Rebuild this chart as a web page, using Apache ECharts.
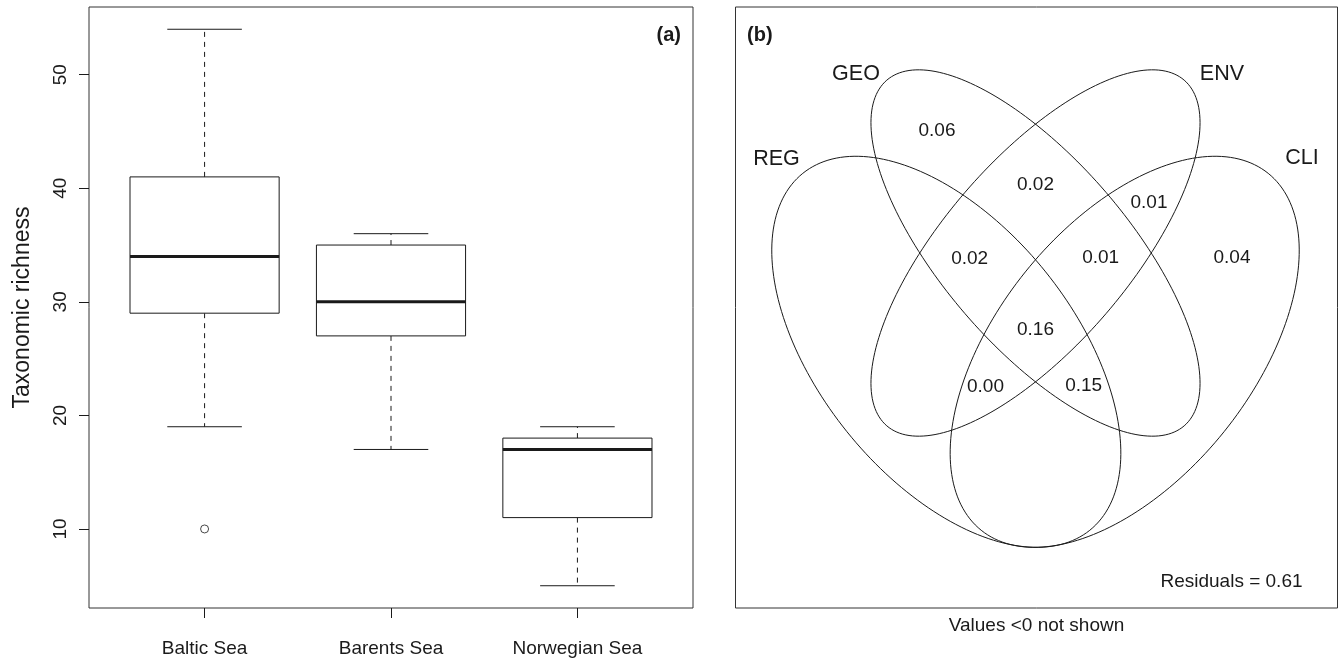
<!DOCTYPE html>
<html>
<head>
<meta charset="utf-8">
<title>Taxonomic richness and variation partitioning</title>
<script src="https://cdn.jsdelivr.net/npm/echarts@6/dist/echarts.min.js"></script>
<style>
html, body { margin: 0; padding: 0; background: #fff; }
#chart { width: 1339px; height: 659px; }
</style>
</head>
<body>
<div id="chart"></div>
<script>
// (a) taxonomic richness per sea, boxplot stats
var regions = ['Baltic Sea', 'Barents Sea', 'Norwegian Sea'];
var whiskerLow = [19, 17, 5];
var lowerQuartile = [29, 27, 11];
var medians = [34, 30, 17];
var upperQuartile = [41, 35, 18];
var whiskerHigh = [54, 36, 19];
var outlierRegion = [1];
var outlierValue = [10];
var richnessTicks = [10, 20, 30, 40, 50];

// (b) variation partitioning with four sets (ellipses in plot units)
var setNames = ['GEO', 'ENV', 'REG', 'CLI'];
var setCenterX = [0, 0, -0.892, 0.892];
var setCenterY = [0, 0, -0.988, -0.988];
var setMajor = [2.28, 2.28, 2.29, 2.29];
var setMinor = [0.93, 0.93, 1.275, 1.275];
var setAngle = [-49.3, 49.3, -51.2, 51.2];
var setLabelX = [-1.795, 1.864, -2.59, 2.665];
var setLabelY = [1.785, 1.785, 0.94, 0.95];
var fractions = [0.06, 0.02, 0.01, 0.02, 0.01, 0.04, 0.16, 0.00, 0.15];
var fractionX = [-0.985, 0, 1.135, -0.658, 0.652, 1.965, 0, -0.5, 0.482];
var fractionY = [1.225, 0.685, 0.498, -0.053, -0.045, -0.045, -0.765, -1.335, -1.325];
var residuals = 0.61;

var FONT = '"Liberation Sans", Arial, Helvetica, sans-serif';
var INK = '#1a1a1a';

var chart = echarts.init(document.getElementById('chart'));

function renderBox (params, api) {
  var x = api.value(0);
  var half = api.size([0.4, 0])[0];
  var cap = half / 2;
  var cx = api.coord([x, 0])[0];
  var yLo = api.coord([x, api.value(1)])[1];
  var yQ1 = api.coord([x, api.value(2)])[1];
  var yMed = api.coord([x, api.value(3)])[1];
  var yQ3 = api.coord([x, api.value(4)])[1];
  var yHi = api.coord([x, api.value(5)])[1];
  var thin = { stroke: INK, lineWidth: 1 };
  var dashed = { stroke: INK, lineWidth: 1, lineDash: [5, 5] };
  return {
    type: 'group',
    children: [
      { type: 'line', shape: { x1: cx, y1: yQ3, x2: cx, y2: yHi }, style: dashed },
      { type: 'line', shape: { x1: cx, y1: yQ1, x2: cx, y2: yLo }, style: dashed },
      { type: 'line', shape: { x1: cx - cap, y1: yHi, x2: cx + cap, y2: yHi }, style: thin },
      { type: 'line', shape: { x1: cx - cap, y1: yLo, x2: cx + cap, y2: yLo }, style: thin },
      { type: 'rect', shape: { x: cx - half, y: yQ3, width: half * 2, height: yQ1 - yQ3 }, style: { fill: '#fff', stroke: INK, lineWidth: 1 } },
      { type: 'line', shape: { x1: cx - half, y1: yMed, x2: cx + half, y2: yMed }, style: { stroke: INK, lineWidth: 3 } }
    ]
  };
}

function renderEllipse (params, api) {
  var cx = api.value(0), cy = api.value(1);
  var a = api.value(2), b = api.value(3);
  var phi = api.value(4) * Math.PI / 180;
  var pts = [];
  for (var i = 0; i < 200; i++) {
    var t = i / 200 * Math.PI * 2;
    var ex = a * Math.cos(t), ey = b * Math.sin(t);
    pts.push(api.coord([
      cx + ex * Math.cos(phi) - ey * Math.sin(phi),
      cy + ex * Math.sin(phi) + ey * Math.cos(phi)
    ]));
  }
  return { type: 'polygon', shape: { points: pts }, style: { fill: 'none', stroke: INK, lineWidth: 1 } };
}

function textRenderer (labels, size) {
  return function (params, api) {
    var p = api.coord([api.value(0), api.value(1)]);
    return {
      type: 'text',
      x: p[0],
      y: p[1],
      style: {
        text: labels[params.dataIndex],
        fontSize: size,
        fontFamily: FONT,
        fill: INK,
        align: 'center',
        verticalAlign: 'middle'
      }
    };
  };
}

var fractionLabels = fractions.map(function (f) { return f.toFixed(2); })
  .concat(['Residuals = ' + residuals.toFixed(2)]);

var option = {
  animation: false,
  backgroundColor: '#fff',
  textStyle: { fontFamily: FONT, color: INK },
  title: [
    { text: '(a)', right: 658, top: 25, padding: 0, textStyle: { fontSize: 20, fontWeight: 'bold', color: INK, fontFamily: FONT } },
    { text: '(b)', left: 747, top: 25, padding: 0, textStyle: { fontSize: 20, fontWeight: 'bold', color: INK, fontFamily: FONT } }
  ],
  grid: [
    { left: 89, top: 7, width: 604, height: 601, show: true, borderColor: '#333', borderWidth: 1, backgroundColor: 'transparent' },
    { left: 735.5, top: 7, width: 602, height: 601, show: true, borderColor: '#333', borderWidth: 1, backgroundColor: 'transparent' }
  ],
  xAxis: [
    {
      gridIndex: 0, type: 'value', min: 0.38, max: 3.62,
      splitLine: { show: false },
      axisLine: { show: false },
      axisTick: { show: true, length: 10, customValues: [1, 2, 3], lineStyle: { color: INK } },
      axisLabel: {
        customValues: [1, 2, 3],
        formatter: function (v) { return regions[Math.round(v) - 1]; },
        fontSize: 19, margin: 31, color: INK, fontFamily: FONT
      }
    },
    {
      gridIndex: 1, type: 'value', min: -3, max: 3.02,
      splitLine: { show: false },
      axisLine: { show: false },
      axisTick: { show: false },
      axisLabel: { show: false },
      name: 'Values <0 not shown',
      nameLocation: 'middle',
      nameGap: 8,
      nameTextStyle: { fontSize: 19, color: INK, fontFamily: FONT }
    }
  ],
  yAxis: [
    {
      gridIndex: 0, type: 'value', min: 3.04, max: 55.96,
      splitLine: { show: false },
      axisLine: { show: false },
      axisTick: { show: true, length: 10, customValues: richnessTicks, lineStyle: { color: INK } },
      axisLabel: { customValues: richnessTicks, rotate: 90, fontSize: 19, margin: 19, color: INK, fontFamily: FONT },
      name: 'Taxonomic richness',
      nameLocation: 'middle',
      nameGap: 55,
      nameTextStyle: { fontSize: 23, color: INK, fontFamily: FONT }
    },
    {
      gridIndex: 1, type: 'value', min: -3.55, max: 2.46, show: false
    }
  ],
  series: [
    {
      type: 'custom',
      xAxisIndex: 0, yAxisIndex: 0,
      renderItem: renderBox,
      data: regions.map(function (r, i) {
        return [i + 1, whiskerLow[i], lowerQuartile[i], medians[i], upperQuartile[i], whiskerHigh[i]];
      })
    },
    {
      type: 'scatter',
      xAxisIndex: 0, yAxisIndex: 0,
      symbol: 'circle',
      symbolSize: 8,
      itemStyle: { color: '#fff', borderColor: INK, borderWidth: 1 },
      data: outlierRegion.map(function (r, i) { return [r, outlierValue[i]]; })
    },
    {
      type: 'custom',
      xAxisIndex: 1, yAxisIndex: 1,
      renderItem: renderEllipse,
      data: setNames.map(function (n, i) {
        return [setCenterX[i], setCenterY[i], setMajor[i], setMinor[i], setAngle[i]];
      })
    },
    {
      type: 'custom',
      xAxisIndex: 1, yAxisIndex: 1,
      renderItem: textRenderer(setNames, 21.5),
      data: setNames.map(function (n, i) { return [setLabelX[i], setLabelY[i]]; })
    },
    {
      type: 'custom',
      xAxisIndex: 1, yAxisIndex: 1,
      renderItem: textRenderer(fractionLabels, 19),
      data: fractions.map(function (f, i) { return [fractionX[i], fractionY[i]]; })
        .concat([[1.96, -3.285]])
    }
  ]
};

chart.setOption(option);
</script>
</body>
</html>
